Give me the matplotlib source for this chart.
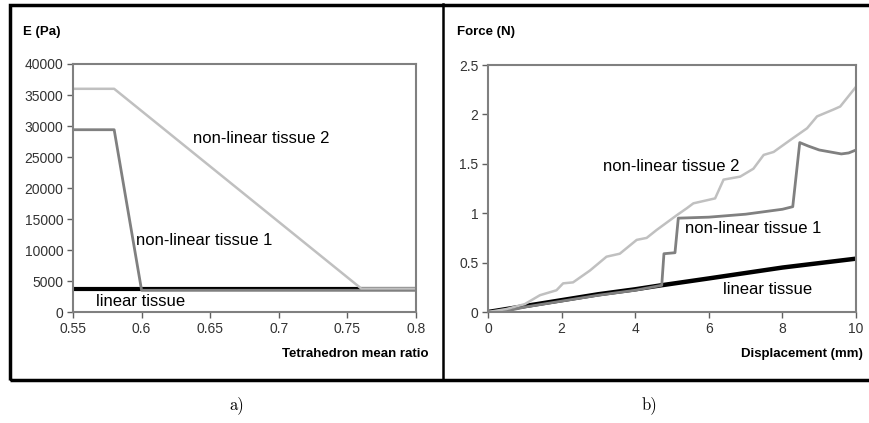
import matplotlib.pyplot as plt
from matplotlib.patches import Rectangle
from matplotlib.lines import Line2D

plt.rcParams['font.family'] = ['Liberation Sans', 'DejaVu Sans']

# a) Young's modulus vs tetrahedron mean ratio
ratio_lin = [0.55, 0.80]
E_lin = [3700, 3700]
ratio_nl1 = [0.55, 0.58, 0.60, 0.80]
E_nl1 = [29400, 29400, 3500, 3500]
ratio_nl2 = [0.55, 0.58, 0.76, 0.80]
E_nl2 = [36000, 36000, 3800, 3800]

# b) force vs displacement
disp_lin = [0, 1, 2, 3, 4, 4.7, 6, 8, 10]
force_lin = [0, 0.06, 0.12, 0.18, 0.23, 0.27, 0.34, 0.45, 0.54]
disp_nl1 = [0, 0.5, 1, 2, 3, 4, 4.72, 4.78, 5.08, 5.17, 6.0, 7.0, 8.0, 8.28,
            8.47, 8.7, 9.0, 9.3, 9.6, 9.8, 10]
force_nl1 = [0, 0.01, 0.05, 0.11, 0.17, 0.22, 0.27, 0.59, 0.60, 0.95, 0.96, 0.99,
             1.04, 1.066, 1.715, 1.68, 1.64, 1.62, 1.60, 1.61, 1.64]
disp_nl2 = [0, 0.5, 1.0, 1.41, 1.86, 2.04, 2.31, 2.77, 3.22, 3.58, 4.04, 4.31,
            4.58, 5.13, 5.40, 5.58, 6.17, 6.40, 6.85, 7.21, 7.49, 7.76, 8.21,
            8.67, 8.94, 9.39, 9.57, 10]
force_nl2 = [0, 0.03, 0.08, 0.17, 0.22, 0.29, 0.30, 0.42, 0.56, 0.59, 0.73, 0.75,
             0.83, 0.98, 1.05, 1.10, 1.15, 1.34, 1.37, 1.45, 1.59, 1.62, 1.74,
             1.86, 1.98, 2.05, 2.08, 2.28]

c_lin, c_nl1, c_nl2 = 'black', '#808080', '#c0c0c0'
tick_col = '#333333'

fig = plt.figure(figsize=(8.69, 4.23), dpi=100)


def style(ax):
    for s in ax.spines.values():
        s.set_color('#808080')
        s.set_linewidth(1.5)
    ax.tick_params(direction='out', length=4, width=1, color='#606060',
                   labelsize=10, labelcolor=tick_col, pad=3)


ax1 = fig.add_axes([0.0840, 0.2624, 0.3947, 0.5863])
ax1.plot(ratio_lin, E_lin, color=c_lin, lw=3, solid_capstyle='butt')
ax1.plot(ratio_nl1, E_nl1, color=c_nl1, lw=2)
ax1.plot(ratio_nl2, E_nl2, color=c_nl2, lw=1.8)
ax1.set_xlim(0.55, 0.8)
ax1.set_ylim(0, 40000)
ax1.set_xticks([0.55, 0.6, 0.65, 0.7, 0.75, 0.8])
ax1.set_xticklabels(['0.55', '0.6', '0.65', '0.7', '0.75', '0.8'])
ax1.set_yticks(range(0, 40001, 5000))
style(ax1)
ax1.text(0.6375, 28000, 'non-linear tissue 2', fontsize=12, va='center')
ax1.text(0.596, 11600, 'non-linear tissue 1', fontsize=12, va='center')
ax1.text(0.5668, 1770, 'linear tissue', fontsize=12, va='center')

ax2 = fig.add_axes([0.5616, 0.2624, 0.4235, 0.5839])
ax2.plot(disp_lin, force_lin, color=c_lin, lw=3.2)
ax2.plot(disp_nl1, force_nl1, color=c_nl1, lw=2)
ax2.plot(disp_nl2, force_nl2, color=c_nl2, lw=1.8)
ax2.set_xlim(0, 10)
ax2.set_ylim(0, 2.5)
ax2.set_xticks([0, 2, 4, 6, 8, 10])
ax2.set_yticks([0, 0.5, 1, 1.5, 2, 2.5])
ax2.set_yticklabels(['0', '0.5', '1', '1.5', '2', '2.5'])
style(ax2)
ax2.text(3.12, 1.47, 'non-linear tissue 2', fontsize=12, va='center')
ax2.text(5.35, 0.85, 'non-linear tissue 1', fontsize=12, va='center')
ax2.text(6.39, 0.23, 'linear tissue', fontsize=12, va='center')

# axis titles placed like the spreadsheet chart
fig.text(23 / 869, 1 - 32 / 423, 'E (Pa)', fontsize=9.5, fontweight='bold', va='center')
fig.text(457 / 869, 1 - 32 / 423, 'Force (N)', fontsize=9.5, fontweight='bold', va='center')
fig.text(428 / 869, 1 - 354 / 423, 'Tetrahedron mean ratio', fontsize=9.5,
         fontweight='bold', va='center', ha='right')
fig.text(863 / 869, 1 - 354 / 423, 'Displacement (mm)', fontsize=9.5,
         fontweight='bold', va='center', ha='right')

# outer frame and divider
fig.patches.append(Rectangle((9.5 / 869, 1 - 379.5 / 423), 1.0, (379.5 - 4.5) / 423,
                             transform=fig.transFigure, fill=False,
                             edgecolor='black', lw=2.5, clip_on=False))
fig.lines.append(Line2D([443 / 869, 443 / 869], [1 - 379 / 423, 1 - 4 / 423],
                        transform=fig.transFigure, color='black', lw=1.8))

fig.text(237 / 869, 1 - 405 / 423, 'a)', fontsize=12, family='cmr10',
         ha='center', va='center')
fig.text(649 / 869, 1 - 405 / 423, 'b)', fontsize=12, family='cmr10',
         ha='center', va='center')

fig.savefig('out.png', dpi=100)
